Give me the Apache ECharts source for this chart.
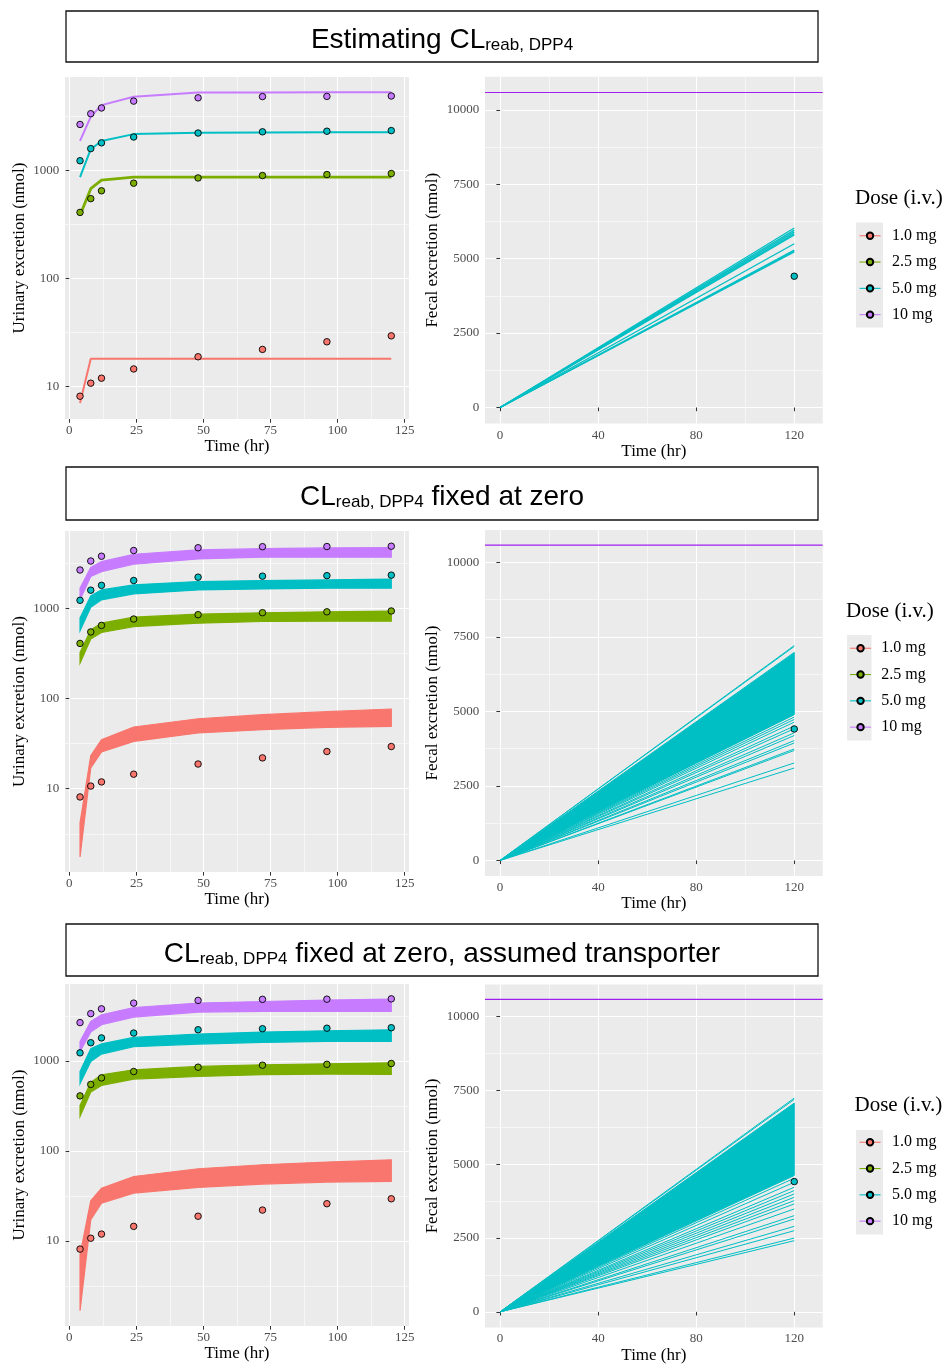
<!DOCTYPE html>
<html><head><meta charset="utf-8">
<script src="https://cdn.jsdelivr.net/npm/echarts@6/dist/echarts.min.js"></script>
<style>html,body{margin:0;padding:0;background:#fff}#c{width:948px;height:1365px}</style>
</head><body><div id="c"></div>
<script>
// ---------- data ----------
const doseNames = ['1.0 mg', '2.5 mg', '5.0 mg', '10 mg'];
const doseColors = ['#F8766D', '#7CAE00', '#00BFC4', '#C77CFF'];
const refLineColor = '#A020F0';

const obsTimes = [4, 8, 12, 24, 48, 72, 96, 120];
const obsUrine_1mg = [8.1, 10.7, 11.9, 14.5, 18.8, 22.0, 25.9, 29.4];
const obsUrine_2_5mg = [410, 550, 650, 765, 855, 900, 920, 940];
const obsUrine_5mg = [1235, 1600, 1810, 2050, 2230, 2290, 2320, 2350];
const obsUrine_10mg = [2680, 3370, 3810, 4410, 4730, 4860, 4880, 4920];

const obsFecalTime = [120];
const obsFecal_5mg = [4410];
const fecalRefLine = 10580;
const fecalTimes = [0, 120];
const fecalStart = 0;

// Row 1: estimating CLreab
const r1Urine_1mg = [7.0, 18, 18, 18, 18, 18, 18, 18];
const r1Urine_2_5mg = [385, 680, 815, 870, 872, 872, 872, 872];
const r1Urine_5mg = [870, 1580, 1880, 2180, 2240, 2260, 2265, 2265];
const r1Urine_10mg = [1890, 3160, 4050, 4840, 5290, 5310, 5320, 5320];
const r1FecalEnd_5mg = [6030, 5960, 5900, 5840, 5800, 5500, 5290, 5260, 5230];

// Row 2: CLreab fixed at zero (band edges)
const r2UrineLo_1mg = [1.75, 17.0, 25.6, 33.5, 41.6, 45.2, 48.0, 49.2];
const r2UrineHi_1mg = [4.18, 23.3, 35.0, 48.4, 59.8, 66.4, 71.6, 76.7];
const r2UrineLo_2_5mg = [248, 458, 542, 631, 689, 718, 724, 724];
const r2UrineHi_2_5mg = [325, 581, 689, 803, 867, 896, 919, 936];
const r2UrineLo_5mg = [566, 1036, 1249, 1455, 1611, 1652, 1683, 1683];
const r2UrineHi_5mg = [783, 1383, 1611, 1833, 1993, 2043, 2081, 2117];
const r2UrineLo_10mg = [1249, 2265, 2571, 3105, 3556, 3716, 3716, 3716];
const r2UrineHi_10mg = [1683, 2852, 3318, 4009, 4477, 4625, 4710, 4743];
const r2FecalEnd_5mg = [7210, 7180, 4810, 4730, 4640, 4510, 4420, 4280, 4190, 4020, 3940, 3740, 3690, 3270, 3100];
const r2FecalBand_5mg = [4890, 6980];

// Row 3: fixed at zero, assumed transporter
const r3UrineLo_1mg = [1.67, 17.2, 26.3, 34.0, 39.3, 42.8, 45.1, 45.8];
const r3UrineHi_1mg = [7.0, 27.9, 38.6, 52.0, 63.4, 70.3, 75.2, 79.8];
const r3UrineLo_2_5mg = [242, 452, 536, 631, 674, 705, 716, 712];
const r3UrineHi_2_5mg = [321, 578, 705, 800, 871, 910, 933, 957];
const r3UrineLo_5mg = [560, 990, 1197, 1443, 1545, 1611, 1652, 1652];
const r3UrineHi_5mg = [766, 1370, 1557, 1832, 1997, 2099, 2173, 2228];
const r3UrineLo_10mg = [1279, 2099, 2535, 3083, 3508, 3564, 3564, 3564];
const r3UrineHi_10mg = [1652, 2756, 3273, 3946, 4416, 4601, 4766, 4893];
const r3FecalEnd_5mg = [7240, 7195, 4524, 4388, 4219, 4106, 3992, 3879, 3766, 3653, 3484, 3257, 3144, 2895, 2748, 2499, 2409];
const r3FecalBand_5mg = [4615, 7069];

// axis ticks
const urineXTicks = [0, 25, 50, 75, 100, 125];
const urineXMinor = [12.5, 37.5, 62.5, 87.5, 112.5];
const urineYTicks = [10, 100, 1000];
const urineYMinor = [3.1623, 31.623, 316.23, 3162.3];
const fecalXTicks = [0, 40, 80, 120];
const fecalXMinor = [20, 60, 100];
const fecalYTicks = [0, 2500, 5000, 7500, 10000];
const fecalYMinor = [1250, 3750, 6250, 8750];

const titleMain = ['Estimating CL', 'CL', 'CL'];
const titleSub = ['reab, DPP4', 'reab, DPP4', 'reab, DPP4'];
const titleTail = ['', ' fixed at zero', ' fixed at zero, assumed transporter'];

// ---------- layout ----------
const SERIF = 'Liberation Serif';
const SANS = 'Liberation Sans';
const grids = [
  {left: 65, top: 77, width: 344, height: 342},
  {left: 485, top: 76.8, width: 337.7, height: 346.8},
  {left: 65, top: 531, width: 344, height: 341},
  {left: 485, top: 530.1, width: 337.7, height: 345.8},
  {left: 65, top: 984, width: 344, height: 342},
  {left: 485, top: 984.4, width: 337.7, height: 345.8}
];
const urineYRange = [[4.98, 7380], [1.19, 7260], [1.13, 7200]];
const fecalYRange = [[-541, 11108], [-520, 11084], [-531, 11089]];
const urineXRange = [-1.6, 126.6];
const fecalXRange = [-6.16, 131.6];

const labelStyle = {fontFamily: SERIF, fontSize: 13, color: '#4D4D4D'};
const nameStyle = {fontFamily: SERIF, fontSize: 17, color: '#000'};
const tickStyle = {show: true, length: 3.7, lineStyle: {color: '#333', width: 1}};

function majorAxis(gi, range, type, ticks, name, nameGap, isX) {
  return {
    type: type, gridIndex: gi, min: range[0], max: range[1],
    name: name, nameLocation: 'middle', nameGap: nameGap, nameTextStyle: nameStyle,
    axisLine: {show: false},
    axisTick: Object.assign({customValues: ticks}, tickStyle),
    axisLabel: {customValues: ticks, margin: isX ? 5 : 5.8, formatter: v => String(v), ...labelStyle},
    splitLine: {show: true, lineStyle: {color: '#FFFFFF', width: 1.1}},
    minorSplitLine: {show: false}
  };
}
function minorAxis(gi, range, type, ticks) {
  return {
    type: type, gridIndex: gi, min: range[0], max: range[1],
    axisLine: {show: false},
    axisTick: {show: false, customValues: ticks},
    axisLabel: {show: false},
    splitLine: {show: true, lineStyle: {color: '#FFFFFF', width: 0.55}}
  };
}

const xAxes = [], yAxes = [];
for (let r = 0; r < 3; r++) {
  const gu = 2 * r, gf = 2 * r + 1;
  xAxes[2 * gu] = majorAxis(gu, urineXRange, 'value', urineXTicks, 'Time (hr)', 19.5, true);
  xAxes[2 * gu + 1] = minorAxis(gu, urineXRange, 'value', urineXMinor);
  yAxes[2 * gu] = majorAxis(gu, urineYRange[r], 'log', urineYTicks, 'Urinary excretion (nmol)', 36.5, false);
  yAxes[2 * gu + 1] = minorAxis(gu, urineYRange[r], 'log', urineYMinor);
  xAxes[2 * gf] = majorAxis(gf, fecalXRange, 'value', fecalXTicks, 'Time (hr)', 19.5, true);
  xAxes[2 * gf + 1] = minorAxis(gf, fecalXRange, 'value', fecalXMinor);
  yAxes[2 * gf] = majorAxis(gf, fecalYRange[r], 'value', fecalYTicks, 'Fecal excretion (nmol)', 43.5, false);
  yAxes[2 * gf + 1] = minorAxis(gf, fecalYRange[r], 'value', fecalYMinor);
}

const zip = (xs, ys) => xs.map((x, i) => [x, ys[i]]);
const series = [];

// Row 1 model lines first (these supply the legend icons)
const r1Model = [r1Urine_1mg, r1Urine_2_5mg, r1Urine_5mg, r1Urine_10mg];
const r1Width = [2, 2.8, 2, 2];
r1Model.forEach((vals, d) => {
  series.push({
    type: 'line', name: doseNames[d], xAxisIndex: 0, yAxisIndex: 0,
    data: zip(obsTimes, vals), symbol: 'circle', symbolSize: 7, showSymbol: false,
    itemStyle: {color: doseColors[d], borderColor: '#000', borderWidth: 1},
    lineStyle: {color: doseColors[d], width: r1Width[d]}, z: 3, silent: true
  });
});

function bandSeries(gi, d, lo, hi) {
  return {
    type: 'custom', name: doseNames[d], xAxisIndex: 2 * gi, yAxisIndex: 2 * gi,
    data: [[obsTimes[0], lo[0]]], silent: true, z: 3, clip: true,
    renderItem: function (params, api) {
      const top = obsTimes.map((t, i) => api.coord([t, hi[i]]));
      const bot = obsTimes.map((t, i) => api.coord([t, lo[i]])).reverse();
      return {type: 'polygon', shape: {points: top.concat(bot)},
        style: {fill: doseColors[d], stroke: doseColors[d], lineWidth: 1.2}};
    }
  };
}
function fanSeries(gi, band) {
  return {
    type: 'custom', name: doseNames[2], xAxisIndex: 2 * gi, yAxisIndex: 2 * gi,
    data: [[fecalTimes[0], fecalStart]], silent: true, z: 3, clip: true,
    renderItem: function (params, api) {
      const pts = [api.coord([fecalTimes[0], fecalStart]), api.coord([fecalTimes[1], band[0]]), api.coord([fecalTimes[1], band[1]])];
      return {type: 'polygon', shape: {points: pts}, style: {fill: doseColors[2], stroke: doseColors[2], lineWidth: 1}};
    }
  };
}
function fecalLines(gi, ends, width) {
  return {
    type: 'lines', coordinateSystem: 'cartesian2d', name: doseNames[2], xAxisIndex: 2 * gi, yAxisIndex: 2 * gi,
    polyline: false, silent: true, z: 3,
    lineStyle: {color: doseColors[2], width: width, opacity: 1, curveness: 0},
    data: ends.map(v => ({coords: [[fecalTimes[0], fecalStart], [fecalTimes[1], v]]}))
  };
}

const bands = [
  null,
  [[r2UrineLo_1mg, r2UrineHi_1mg], [r2UrineLo_2_5mg, r2UrineHi_2_5mg], [r2UrineLo_5mg, r2UrineHi_5mg], [r2UrineLo_10mg, r2UrineHi_10mg]],
  [[r3UrineLo_1mg, r3UrineHi_1mg], [r3UrineLo_2_5mg, r3UrineHi_2_5mg], [r3UrineLo_5mg, r3UrineHi_5mg], [r3UrineLo_10mg, r3UrineHi_10mg]]
];
const fecalEnds = [r1FecalEnd_5mg, r2FecalEnd_5mg, r3FecalEnd_5mg];
const fecalBands = [null, r2FecalBand_5mg, r3FecalBand_5mg];
const obsUrine = [obsUrine_1mg, obsUrine_2_5mg, obsUrine_5mg, obsUrine_10mg];

for (let r = 0; r < 3; r++) {
  const gu = 2 * r, gf = 2 * r + 1;
  if (bands[r]) bands[r].forEach((b, d) => series.push(bandSeries(gu, d, b[0], b[1])));
  obsUrine.forEach((vals, d) => {
    series.push({
      type: 'scatter', name: doseNames[d], xAxisIndex: 2 * gu, yAxisIndex: 2 * gu,
      data: zip(obsTimes, vals), symbol: 'circle', symbolSize: 6.5, silent: true, z: 5,
      itemStyle: {color: doseColors[d], borderColor: '#000', borderWidth: 0.9, opacity: 1}
    });
  });
  series.push({
    type: 'line', name: 'ref' + r, xAxisIndex: 2 * gf, yAxisIndex: 2 * gf,
    data: [[fecalXRange[0], fecalRefLine], [fecalXRange[1], fecalRefLine]],
    symbol: 'none', silent: true, z: 2,
    lineStyle: {color: refLineColor, width: 1.2, type: 'solid', opacity: 1},
    itemStyle: {color: refLineColor}
  });
  if (fecalBands[r]) series.push(fanSeries(gf, fecalBands[r]));
  series.push(fecalLines(gf, fecalEnds[r], r === 0 ? 1.4 : 1));
  series.push({
    type: 'scatter', name: doseNames[2], xAxisIndex: 2 * gf, yAxisIndex: 2 * gf,
    data: zip(obsFecalTime, obsFecal_5mg), symbol: 'circle', symbolSize: 6.5, silent: true, z: 5,
    itemStyle: {color: doseColors[2], borderColor: '#000', borderWidth: 0.9, opacity: 1}
  });
}

// titles & legends
const titleBoxes = [[66, 11, 752, 51], [66, 467, 752, 53], [66, 924, 752, 52]];
const titleTops = [22, 479, 936];
const legendTitlePos = [[855, 187.5], [846, 600.5], [854.5, 1095]];
const legendPos = [[859, 222.6, 6.4], [849.5, 635.1, 5.2], [859, 1129.1, 6.4]];
const legendKeyBox = [[856, 222.6, 27, 105], [847, 635, 24.5, 105.5], [856, 1129.9, 27, 104.5]];

const titles = [];
for (let r = 0; r < 3; r++) {
  titles.push({
    text: '{m|' + titleMain[r] + '}{s|' + titleSub[r] + '}' + (titleTail[r] ? '{m|' + titleTail[r] + '}' : ''),
    left: 442, top: titleTops[r], textAlign: 'center', padding: 0,
    textStyle: {fontWeight: 'normal', fontFamily: SANS, rich: {
      m: {fontFamily: SANS, fontSize: 28, fontWeight: 'normal', color: '#000', lineHeight: 32, verticalAlign: 'bottom'},
      s: {fontFamily: SANS, fontSize: 17, fontWeight: 'normal', color: '#000', lineHeight: 20, verticalAlign: 'bottom'}
    }}
  });
  titles.push({
    text: 'Dose (i.v.)', left: legendTitlePos[r][0], top: legendTitlePos[r][1], padding: 0,
    textStyle: {fontFamily: SERIF, fontSize: 21, fontWeight: 'normal', color: '#000'}
  });
}

const legends = legendPos.map(p => ({
  data: doseNames, orient: 'vertical', left: p[0], top: p[1], padding: 0, itemGap: 0,
  itemWidth: 21, itemHeight: 8, selectedMode: false,
  lineStyle: {width: 1.1},
  textStyle: {fontFamily: SERIF, fontSize: 16, color: '#000', lineHeight: 26.3, padding: [0, 0, 0, p[2]]}
}));

const graphics = [];
titleBoxes.forEach(b => graphics.push({type: 'rect', shape: {x: b[0], y: b[1], width: b[2], height: b[3]},
  style: {fill: '#fff', stroke: '#111', lineWidth: 1.3}, silent: true, z: 0}));
legendKeyBox.forEach(b => graphics.push({type: 'rect', shape: {x: b[0], y: b[1], width: b[2], height: b[3]},
  style: {fill: '#EBEBEB'}, silent: true, z: 0}));

const chart = echarts.init(document.getElementById('c'), null, {renderer: 'canvas'});
chart.setOption({
  animation: false,
  backgroundColor: '#fff',
  textStyle: {fontFamily: SERIF},
  title: titles,
  legend: legends,
  graphic: graphics,
  grid: grids.map(g => Object.assign({show: true, backgroundColor: '#EBEBEB', borderWidth: 0, containLabel: false}, g)),
  xAxis: xAxes,
  yAxis: yAxes,
  series: series
});
</script></body></html>
